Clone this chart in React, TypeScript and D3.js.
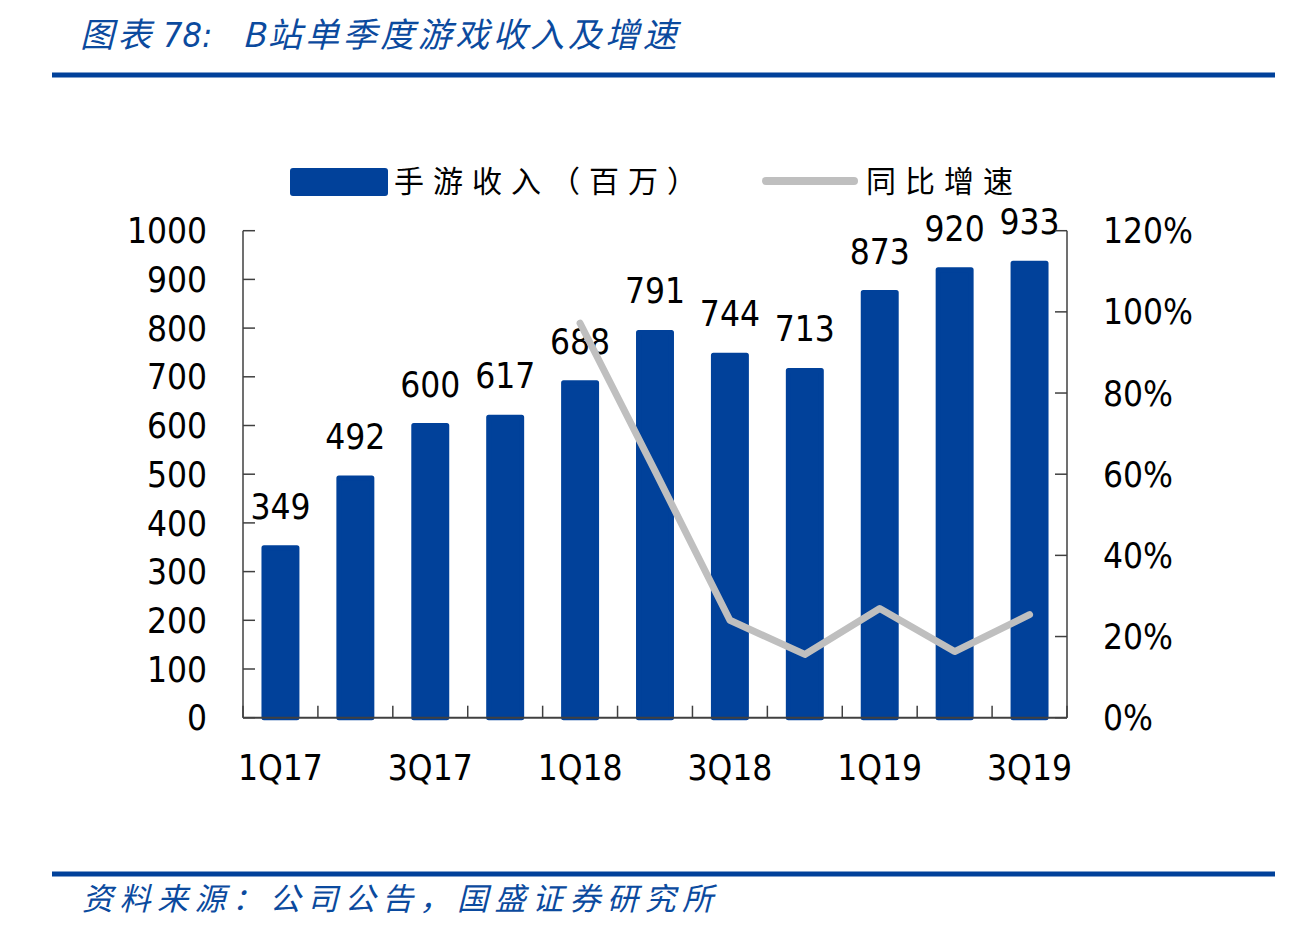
import * as d3 from "d3";

const quarters = ["1Q17", "2Q17", "3Q17", "4Q17", "1Q18", "2Q18", "3Q18", "4Q18", "1Q19", "2Q19", "3Q19"];
const revenue = [349, 492, 600, 617, 688, 791, 744, 713, 873, 920, 933];
const growth: (number | null)[] = [null, null, null, null, 0.972, 0.608, 0.24, 0.156, 0.269, 0.163, 0.254];
const leftTicks = [0, 100, 200, 300, 400, 500, 600, 700, 800, 900, 1000];
const rightTicks = [0, 0.2, 0.4, 0.6, 0.8, 1.0, 1.2];
const shownQuarters = ["1Q17", "3Q17", "1Q18", "3Q18", "1Q19", "3Q19"];

const W = 1305;
const H = 946;
const BLUE = "#01419A";
const GRAY = "#BFBFBF";
const AXIS = "#404040";
const NUM_FONT = "Tahoma, 'DejaVu Sans Condensed', 'DejaVu Sans', sans-serif";
const CJK_FONT = "'Noto Sans CJK SC', sans-serif";

export default function App() {
  const left = 243;
  const right = 1067;
  const top = 230.7;
  const bottom = 717.7;

  const x = d3
    .scaleBand<string>()
    .domain(quarters)
    .range([left, right])
    .paddingInner(0.56)
    .paddingOuter(0.28);
  const step = x.step();
  const bw = x.bandwidth();
  const cx = (q: string) => (x(q) as number) + bw / 2;

  const y = d3.scaleLinear().domain([0, 1000]).range([bottom, top]);
  const yR = d3.scaleLinear().domain([0, 1.2]).range([bottom, top]);

  const line = d3
    .line<number | null>()
    .defined((d) => d !== null)
    .x((_, i) => cx(quarters[i]))
    .y((d) => yR(d as number));

  const boundaries = d3.range(quarters.length + 1).map((i) => left + i * step);

  return (
    <div style={{ position: "absolute", left: 0, top: 0 }}>
      <svg width={W} height={H} viewBox={`0 0 ${W} ${H}`} style={{ display: "block", background: "#fff" }}>
        {/* header */}
        <text y={47} fontFamily={CJK_FONT} fontStyle="italic" fontSize={34} fill="#0B4A9E" letterSpacing={3.5}>
          <tspan x={80}>图表</tspan>
          <tspan x={163} fontFamily={NUM_FONT} letterSpacing={0}>78:</tspan>
          <tspan x={242}>B站单季度游戏收入及增速</tspan>
        </text>
        <rect x={52} y={72.5} width={1223} height={5} fill={BLUE} />

        {/* legend */}
        <rect x={290} y={168} width={98} height={28} rx={3} fill={BLUE} />
        <text x={394} y={192} fontFamily={CJK_FONT} fontSize={30} fill="#000" letterSpacing={9}>
          手游收入（百万）
        </text>
        <line x1={766} x2={854} y1={181} y2={181} stroke={GRAY} strokeWidth={8} strokeLinecap="round" />
        <text x={866} y={192} fontFamily={CJK_FONT} fontSize={30} fill="#000" letterSpacing={9}>
          同比增速
        </text>

        {/* bars */}
        {quarters.map((q, i) => (
          <rect
            key={q}
            x={x(q)}
            y={y(revenue[i])}
            width={bw}
            height={y(0) - y(revenue[i])}
            fill={BLUE}
            stroke={BLUE}
            strokeWidth={5}
            strokeLinejoin="round"
          />
        ))}

        {/* value labels */}
        {quarters.map((q, i) => (
          <text
            key={q}
            x={cx(q)}
            y={y(revenue[i]) - 29}
            textAnchor="middle"
            fontFamily={NUM_FONT}
            fontSize={35}
            fill="#000"
          >
            {revenue[i]}
          </text>
        ))}

        {/* growth line */}
        <path d={line(growth) ?? ""} fill="none" stroke={GRAY} strokeWidth={7} strokeLinecap="round" strokeLinejoin="round" />

        {/* left axis */}
        <line x1={left} x2={left} y1={top} y2={bottom} stroke={AXIS} strokeWidth={1.5} />
        {leftTicks.map((t) => (
          <g key={t}>
            <line x1={left} x2={left + 12} y1={y(t)} y2={y(t)} stroke={AXIS} strokeWidth={1.5} />
            <text x={207} y={y(t)} dy="0.36em" textAnchor="end" fontFamily={NUM_FONT} fontSize={35} fill="#000">
              {t}
            </text>
          </g>
        ))}

        {/* right axis */}
        <line x1={right} x2={right} y1={top} y2={bottom} stroke={AXIS} strokeWidth={1.5} />
        {rightTicks.map((t) => (
          <g key={t}>
            <line x1={right - 12} x2={right} y1={yR(t)} y2={yR(t)} stroke={AXIS} strokeWidth={1.5} />
            <text x={1103} y={yR(t)} dy="0.36em" textAnchor="start" fontFamily={NUM_FONT} fontSize={35} fill="#000">
              {d3.format(".0%")(t)}
            </text>
          </g>
        ))}

        {/* bottom axis */}
        <line x1={left} x2={right} y1={bottom} y2={bottom} stroke={AXIS} strokeWidth={2} />
        {boundaries.map((b, i) => (
          <line key={i} x1={b} x2={b} y1={bottom} y2={bottom - 12} stroke={AXIS} strokeWidth={1.5} />
        ))}
        {shownQuarters.map((q) => (
          <text key={q} x={cx(q)} y={780} textAnchor="middle" fontFamily={NUM_FONT} fontSize={35} fill="#000">
            {q}
          </text>
        ))}

        {/* footer */}
        <rect x={52} y={871.5} width={1223} height={5} fill={BLUE} />
        <text x={82} y={910} fontFamily={CJK_FONT} fontStyle="italic" fontSize={31} fill="#0B4A9E" letterSpacing={6.5}>
          资料来源：公司公告，国盛证券研究所
        </text>
      </svg>
    </div>
  );
}
